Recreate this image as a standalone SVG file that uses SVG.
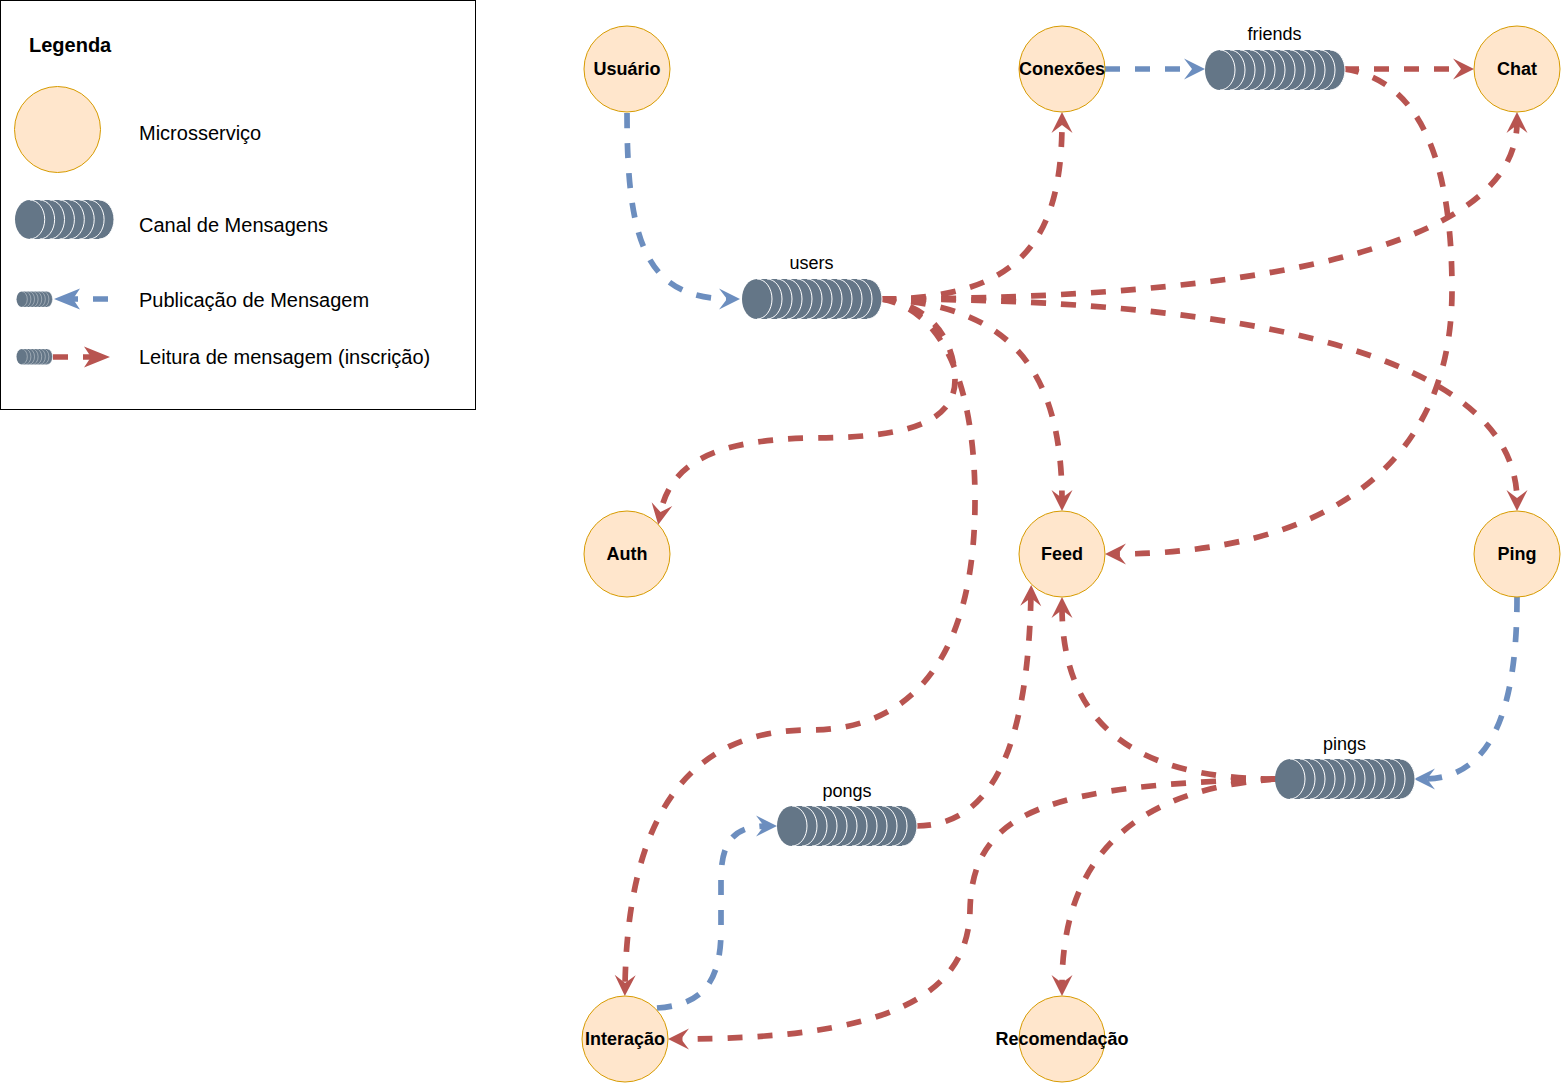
<svg xmlns="http://www.w3.org/2000/svg" xmlns:xlink="http://www.w3.org/1999/xlink" width="1561" height="1084" viewBox="0 0 1561 1084">
<style>
  .svc { fill: #ffe6cc; stroke: #d79b00; stroke-width: 1; }
  .svct { font-family: "Liberation Sans", Arial, sans-serif; font-size: 18px; font-weight: bold; fill: #000; text-anchor: middle; }
  .cht { font-family: "Liberation Sans", Arial, sans-serif; font-size: 18px; fill: #000; text-anchor: middle; }
  .lgt { font-family: "Liberation Sans", Arial, sans-serif; font-size: 20px; fill: #000; }
  .pub { fill: none; stroke: #6c8ebf; stroke-width: 5.7; stroke-dasharray: 15 15; }
  .sub { fill: none; stroke: #b85450; stroke-width: 5.7; stroke-dasharray: 15 15; }
  .arc { fill: none; stroke: #ffffff; stroke-width: 1; }
</style>
<defs>
  <marker id="mb" markerUnits="userSpaceOnUse" viewBox="-20 -20 40 40" markerWidth="40" markerHeight="40" refX="0" refY="0" orient="auto" overflow="visible">
    <path d="M10,0 L-11,-10.5 L-3,0 L-11,10.5 Z" fill="#6c8ebf"/>
  </marker>
  <marker id="mr" markerUnits="userSpaceOnUse" viewBox="-20 -20 40 40" markerWidth="40" markerHeight="40" refX="0" refY="0" orient="auto" overflow="visible">
    <path d="M10,0 L-11,-10.5 L-3,0 L-11,10.5 Z" fill="#b85450"/>
  </marker>
  <marker id="lb" markerUnits="userSpaceOnUse" viewBox="-30 -20 60 40" markerWidth="60" markerHeight="40" refX="0" refY="0" orient="auto" overflow="visible">
    <path d="M18,0 L-8,-10.5 L-1,0 L-8,10.5 Z" fill="#6c8ebf"/>
  </marker>
  <marker id="lr" markerUnits="userSpaceOnUse" viewBox="-30 -20 60 40" markerWidth="60" markerHeight="40" refX="0" refY="0" orient="auto" overflow="visible">
    <path d="M18,0 L-8,-10.5 L-1,0 L-8,10.5 Z" fill="#b85450"/>
  </marker>
  <g id="ch140">
    <rect x="0" y="0" width="140" height="40" rx="15" ry="20" fill="#647687"/>
    <path class="arc" d="M15,0 A15,20 0 0 1 15,40 M25,0 A15,20 0 0 1 25,40 M35,0 A15,20 0 0 1 35,40 M45,0 A15,20 0 0 1 45,40 M55,0 A15,20 0 0 1 55,40 M65,0 A15,20 0 0 1 65,40 M75,0 A15,20 0 0 1 75,40 M85,0 A15,20 0 0 1 85,40 M95,0 A15,20 0 0 1 95,40 M105,0 A15,20 0 0 1 105,40 M115,0 A15,20 0 0 1 115,40 M125,0 A15,20 0 0 1 125,40"/>
  </g>
  <g id="ch100">
    <rect x="0" y="0" width="100" height="40" rx="15" ry="20" fill="#647687"/>
    <path class="arc" d="M15,0 A15,20 0 0 1 15,40 M25,0 A15,20 0 0 1 25,40 M35,0 A15,20 0 0 1 35,40 M45,0 A15,20 0 0 1 45,40 M55,0 A15,20 0 0 1 55,40 M65,0 A15,20 0 0 1 65,40 M75,0 A15,20 0 0 1 75,40 M85,0 A15,20 0 0 1 85,40"/>
  </g>
</defs>
<rect x="0" y="0" width="1561" height="1084" fill="#ffffff"/>

<g id="legend">
  <rect x="0.5" y="0.5" width="475" height="409" fill="#ffffff" stroke="#000000" stroke-width="1"/>
  <text class="lgt" x="29" y="52" font-weight="bold">Legenda</text>
  <circle class="svc" cx="57.5" cy="129.5" r="43"/>
  <text class="lgt" x="139" y="140">Microsserviço</text>
  <use xlink:href="#ch100" transform="translate(15,200) scale(0.99,0.975)"/>
  <text class="lgt" x="139" y="232">Canal de Mensagens</text>
  <use xlink:href="#ch100" transform="translate(16.5,291.5) scale(0.36,0.385)"/>
  <path class="pub" d="M108,299 L72,299" marker-end="url(#lb)"/>
  <text class="lgt" x="139" y="307">Publicação de Mensagem</text>
  <use xlink:href="#ch100" transform="translate(16.5,349) scale(0.36,0.385)"/>
  <path class="sub" d="M53,357 L92,357" marker-end="url(#lr)"/>
  <text class="lgt" x="139" y="364">Leitura de mensagem (inscrição)</text>
</g>

<g id="connectors">
  <path id="e-usuario-users" class="pub" d="M627,113 C627,240 645,299 730,299" marker-end="url(#mb)"/>
  <path id="e-conexoes-friends" class="pub" d="M1105,69 L1195,69" marker-end="url(#mb)"/>
  <path id="e-ping-pings" class="pub" d="M1517,597 C1517,690 1500,779 1424,779" marker-end="url(#mb)"/>
  <path id="e-interacao-pongs" class="pub" d="M657,1008 C700,1005 721,985 721,930 L721,880 C721,840 735,826 767,826" marker-end="url(#mb)"/>

  <path id="e-users-conexoes" class="sub" d="M881,299 C1020,299 1062,240 1062,122" marker-end="url(#mr)"/>
  <path id="e-users-chat" class="sub" d="M881,299 C1250,299 1517,250 1517,122" marker-end="url(#mr)"/>
  <path id="e-users-ping" class="sub" d="M881,299 C1300,299 1517,370 1517,501" marker-end="url(#mr)"/>
  <path id="e-users-feed" class="sub" d="M881,299 C1010,305 1062,370 1062,501" marker-end="url(#mr)"/>
  <path id="e-users-auth" class="sub" d="M881,299 C935,305 955,345 955,380 C955,425 900,438 810,438 C720,440 670,460 660,515" marker-end="url(#mr)"/>
  <path id="e-users-interacao" class="sub" d="M881,299 C950,310 975,400 975,500 C975,660 910,730 810,730 C700,730 628,800 625,986" marker-end="url(#mr)"/>
  <path id="e-friends-chat" class="sub" d="M1344,69 L1464,69" marker-end="url(#mr)"/>
  <path id="e-friends-feed" class="sub" d="M1344,69 C1420,80 1452,160 1452,290 C1452,470 1320,554 1115,554" marker-end="url(#mr)"/>
  <path id="e-pings-feed" class="sub" d="M1276,779 C1130,779 1062,720 1062,607" marker-end="url(#mr)"/>
  <path id="e-pings-recomendacao" class="sub" d="M1276,779 C1120,790 1062,870 1062,986" marker-end="url(#mr)"/>
  <path id="e-pings-interacao" class="sub" d="M1276,779 C1050,785 972,810 970,910 C968,1000 880,1039 678,1039" marker-end="url(#mr)"/>
  <path id="e-pongs-feed" class="sub" d="M916,826 C1000,826 1028,730 1031,595" marker-end="url(#mr)"/>
</g>

<g id="ch-users">
  <use xlink:href="#ch140" x="742" y="279"/>
  <text class="cht" x="811.5" y="269">users</text>
</g>
<g id="ch-friends">
  <use xlink:href="#ch140" x="1205" y="50"/>
  <text class="cht" x="1274.5" y="40">friends</text>
</g>
<g id="ch-pings">
  <use xlink:href="#ch140" x="1275" y="759"/>
  <text class="cht" x="1344.5" y="750">pings</text>
</g>
<g id="ch-pongs">
  <use xlink:href="#ch140" x="777" y="806"/>
  <text class="cht" x="847" y="797">pongs</text>
</g>

<g id="n-usuario"><circle class="svc" cx="627" cy="69" r="43"/><text class="svct" x="627" y="75">Usuário</text></g>
<g id="n-conexoes"><circle class="svc" cx="1062" cy="69" r="43"/><text class="svct" x="1062" y="75">Conexões</text></g>
<g id="n-chat"><circle class="svc" cx="1517" cy="69" r="43"/><text class="svct" x="1517" y="75">Chat</text></g>
<g id="n-auth"><circle class="svc" cx="627" cy="554" r="43"/><text class="svct" x="627" y="560">Auth</text></g>
<g id="n-feed"><circle class="svc" cx="1062" cy="554" r="43"/><text class="svct" x="1062" y="560">Feed</text></g>
<g id="n-ping"><circle class="svc" cx="1517" cy="554" r="43"/><text class="svct" x="1517" y="560">Ping</text></g>
<g id="n-interacao"><circle class="svc" cx="625" cy="1039" r="43"/><text class="svct" x="625" y="1045">Interação</text></g>
<g id="n-recomendacao"><circle class="svc" cx="1062" cy="1039" r="43"/><text class="svct" x="1062" y="1045">Recomendação</text></g>
</svg>
